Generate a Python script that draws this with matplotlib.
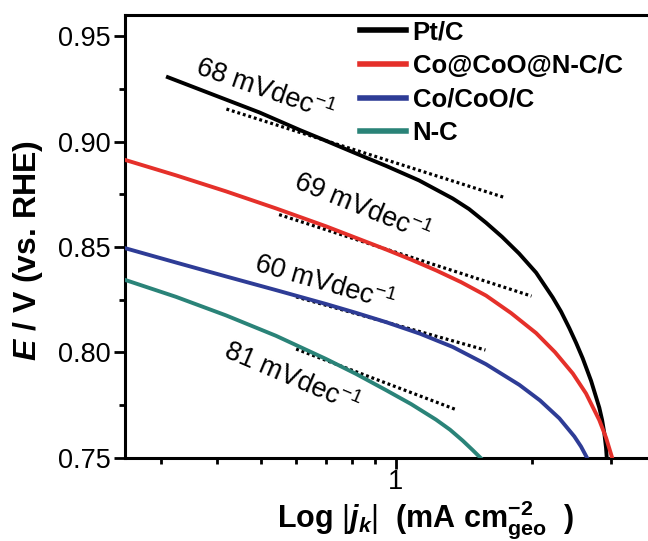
import numpy as np
import matplotlib
matplotlib.use("Agg")
import matplotlib.pyplot as plt

plt.rcParams['font.family'] = ['Liberation Sans', 'DejaVu Sans']
plt.rcParams['mathtext.fontset'] = 'custom'
plt.rcParams['mathtext.rm'] = 'Liberation Sans'
plt.rcParams['mathtext.it'] = 'Liberation Sans:italic'
plt.rcParams['mathtext.bf'] = 'Liberation Sans:bold'
plt.rcParams['mathtext.bfit'] = 'Liberation Sans:bold:italic'

# Tafel curves: kinetic current density |j_k| (mA cm^-2) vs potential E (V vs. RHE)
series_names = ["Pt/C", "Co@CoO@N-C/C", "Co/CoO/C", "N-C"]
series_colors = ["#000000", "#E5302A", "#2E3C96", "#2A8378"]

pt_j = [0.3113, 0.3861, 0.4969, 0.6117, 0.6990, 0.8318, 0.9501, 1.1248, 1.3366,
        1.4529, 1.5849, 1.7203, 1.8763, 2.0475, 2.2295, 2.3263, 2.4273, 2.5119,
        2.5990, 2.7128, 2.8297, 2.8696, 2.9035, 2.9286, 2.9436]
pt_E = [0.9306, 0.9229, 0.9139, 0.9055, 0.9004, 0.8936, 0.8885, 0.8816, 0.8730,
        0.8680, 0.8615, 0.8548, 0.8469, 0.8378, 0.8260, 0.8193, 0.8114, 0.8045,
        0.7971, 0.7864, 0.7736, 0.7679, 0.7614, 0.7545, 0.7479]

co_ncc_j = [0.2512, 0.3245, 0.4190, 0.5412, 0.6990, 0.8151, 0.9501, 1.0798, 1.2267,
            1.3944, 1.5849, 1.8014, 2.0475, 2.2560, 2.4706, 2.6434, 2.8297, 2.9286, 3.0310]
co_ncc_E = [0.8912, 0.8840, 0.8764, 0.8683, 0.8598, 0.8543, 0.8488, 0.8440, 0.8389,
            0.8333, 0.8269, 0.8186, 0.8091, 0.8000, 0.7899, 0.7804, 0.7677, 0.7594, 0.7489]

co_coo_j = [0.2512, 0.3245, 0.4190, 0.5412, 0.6990, 0.8151, 0.9501, 1.1306, 1.3366,
            1.5849, 1.8793, 2.0893, 2.3064, 2.4899, 2.5766, 2.6669]
co_coo_E = [0.8493, 0.8426, 0.8360, 0.8295, 0.8229, 0.8187, 0.8143, 0.8088, 0.8025,
            0.7943, 0.7845, 0.7771, 0.7686, 0.7600, 0.7552, 0.7492]

nc_j = [0.2512, 0.3245, 0.4190, 0.5412, 0.6990, 0.8151, 0.9501, 1.0798, 1.2267,
        1.3183, 1.4068, 1.4805, 1.5586]
nc_E = [0.8342, 0.8263, 0.8175, 0.8078, 0.7968, 0.7897, 0.7820, 0.7754, 0.7680,
        0.7632, 0.7580, 0.7535, 0.7488]

# Tafel slopes (mV/dec) and the fitted linear regions
tafel_slopes = [68, 69, 60, 81]
tafel_anchor_j = [0.70, 0.85, 0.95, 0.69]
tafel_anchor_E = [0.9004, 0.8523, 0.8143, 0.7966]
tafel_j_start = [0.42, 0.55, 0.60, 0.60]
tafel_j_end = [1.75, 2.00, 1.58, 1.36]

x_ticks_major = [1]
x_tick_labels = ["1"]
x_ticks_minor = [0.3, 0.4, 0.5, 0.6, 0.7, 0.8, 0.9, 2, 3]
y_ticks = [0.75, 0.80, 0.85, 0.90, 0.95]

fig = plt.figure(figsize=(6.48, 5.41), dpi=100)
ax = fig.add_axes([125 / 648, 1 - 457.5 / 541, 542 / 648, 442.2 / 541])

curves = [(pt_j, pt_E), (co_ncc_j, co_ncc_E), (co_coo_j, co_coo_E), (nc_j, nc_E)]
for (j, E), name, color in zip(curves, series_names, series_colors):
    ax.plot(j, E, color=color, lw=2.8, label=name, solid_joinstyle='round', zorder=3)

# dotted Tafel fits drawn from the stated slopes
for s, ja, Ea, j0, j1 in zip(tafel_slopes, tafel_anchor_j, tafel_anchor_E,
                             tafel_j_start, tafel_j_end):
    jj = np.array([j0, j1])
    EE = Ea - s / 1000.0 * np.log10(jj / ja)
    ax.plot(jj, EE, color='black', lw=2.3, linestyle=(0, (0.9, 0.9)), zorder=2)

ax.set_xscale('log')
ax.set_xlim(0.25, 4)
ax.set_ylim(0.75, 0.96)
ax.set_xticks(x_ticks_major)
ax.set_xticklabels(x_tick_labels)
ax.set_xticks(x_ticks_minor, minor=True)
ax.xaxis.set_minor_formatter(matplotlib.ticker.NullFormatter())
ax.set_yticks(y_ticks)
ax.set_yticklabels([f"{v:.2f}" for v in y_ticks])
ax.set_yticks([0.775, 0.825, 0.875, 0.925], minor=True)

for sp in ax.spines.values():
    sp.set_linewidth(2.2)
ax.tick_params(which='major', direction='out', length=8, width=2, labelsize=19.5, pad=2)
ax.tick_params(which='minor', direction='out', length=4.5, width=2)
ax.tick_params(axis='x', which='major', pad=0.5)

label_pos = [(0.512, 0.9245, -19), (0.840, 0.8685, -22), (0.695, 0.8325, -16), (0.587, 0.7878, -23)]
for s, (lx, ly, rot) in zip(tafel_slopes, label_pos):
    ax.text(lx, ly, f"{s} mVdec$^{{-1}}$", fontsize=19.5, rotation=rot,
            rotation_mode='anchor', ha='center', va='center', zorder=4)

ax.set_ylabel(r"$\mathbfit{E}$ / V (vs. RHE)", fontsize=23, fontweight='bold', va='center')
ax.yaxis.set_label_coords(-0.179, 0.467)
ax.set_xlabel(r"$\mathbf{Log}\ |\mathbfit{j}_{\mathbfit{k}}|\ \ \mathbf{(mA\ cm^{-2}_{geo}\ \ )}$",
              fontsize=22, va='bottom')
ax.xaxis.set_label_coords(0.555, -0.188)

leg = ax.legend(loc='upper left', bbox_to_anchor=(360 / 648, 1 - 20 / 541),
                bbox_transform=fig.transFigure, frameon=False, borderaxespad=0,
                borderpad=0, handlelength=1.8, handletextpad=0.25, labelspacing=0.38,
                prop={'weight': 'bold', 'size': 18.5})
for line in leg.get_lines():
    line.set_linewidth(4)

fig.savefig("out.png", dpi=100)
